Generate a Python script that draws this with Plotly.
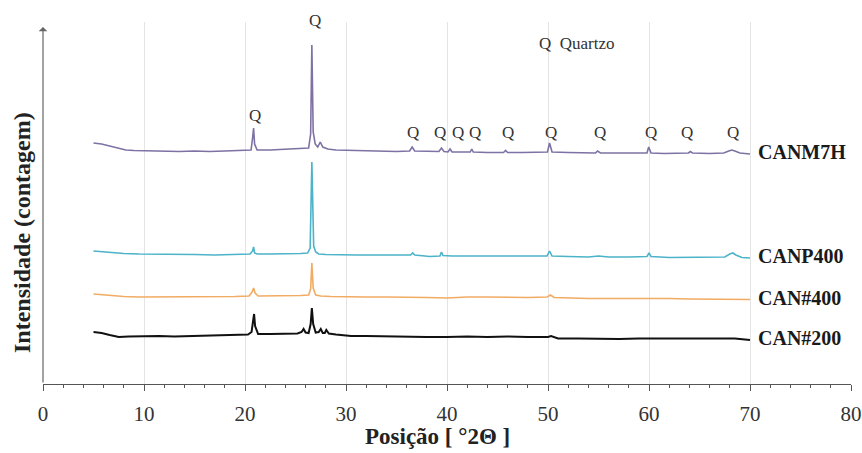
import plotly.graph_objects as go

# ---------------- data (intensity in arbitrary counts, offset stacked) ----------------
series_names = ["CANM7H", "CANP400", "CAN#400", "CAN#200"]
series_colors = ["#7d72a3", "#4cb3c9", "#f2ab63", "#111111"]
series_widths = [1.6, 1.6, 1.6, 2.0]

m7h_x = [5.0, 5.8, 6.6, 7.4, 8.2, 9.0,
         10.5, 12.0, 13.5, 15.0, 16.5, 18.0, 19.5,
         20.6, 20.75, 20.85, 20.95, 21.2,
         22.5, 24.0, 25.5, 26.3, 26.5, 26.62, 26.75, 26.95, 27.2, 27.45, 27.7, 28.2, 29.0,
         30.5, 32.0, 33.5, 35.0, 36.3, 36.55, 36.8,
         38.0, 39.2, 39.45, 39.7, 40.1, 40.3, 40.5,
         41.5, 42.3, 42.45, 42.6,
         44.0, 45.6, 45.8, 46.0,
         47.5, 49.0, 49.95, 50.15, 50.4,
         52.0, 53.5, 54.7, 54.9, 55.2,
         57.0, 58.5, 59.8, 59.97, 60.2,
         61.5, 63.0, 63.9, 64.1, 64.3,
         66.0, 67.4, 67.9, 68.2, 68.5, 69.0, 70.0]
m7h_y = [241, 240, 238, 236, 234, 233.5,
         233, 233, 232.5, 233, 232.5, 233, 233.5,
         234, 246, 256, 240, 234,
         234, 234.5, 235, 236, 250, 339, 252, 240, 237, 242, 237, 235, 234,
         233.5, 233, 233, 232.5, 233, 237, 233,
         232.5, 232.5, 236, 232.5, 232, 235, 232,
         232, 232, 235, 232,
         231.5, 231.5, 233.5, 231.5,
         231.5, 231.5, 232, 241, 232,
         231.5, 231, 231, 233, 231,
         231, 231, 231, 237, 231,
         230.5, 230.5, 231, 232.5, 231,
         230.5, 231, 233, 234, 233, 231, 230]

p400_x = [5.0, 6.0, 7.0, 8.0, 9.5, 11.0, 13.0, 15.0, 17.0, 19.0,
          20.5, 20.75, 20.85, 20.95, 21.2,
          22.5, 24.0, 25.5, 26.2, 26.45, 26.62, 26.8, 27.0, 27.3, 28.0,
          29.5, 31.0, 33.0, 35.0,
          36.4, 36.6, 36.8,
          38.3, 39.3, 39.45, 39.6,
          40.5, 42.0, 44.0, 46.0, 48.0,
          49.9, 50.15, 50.4,
          52.0, 54.0, 55.0, 56.0, 58.0,
          59.8, 60.0, 60.2,
          62.0, 64.0, 66.0,
          67.5, 68.0, 68.3, 68.6, 69.2, 70.0]
p400_y = [133, 132, 131, 130.5, 130, 130, 129.5, 129.5, 129, 129.5,
          130, 133, 137, 131, 130,
          130, 130, 130.5, 131, 136, 222, 138, 132, 130, 129.5,
          129, 129, 129, 129,
          129, 131, 129,
          127.5, 128, 132, 128.5,
          128, 128, 128, 127.5, 127.5,
          128, 133, 128,
          127.5, 127, 128, 127, 127,
          127.5, 131, 127.5,
          126.5, 126.5, 126.5,
          127, 130, 131, 129, 126.5, 126]

c400_x = [5.0, 6.0, 7.0, 8.0, 9.5, 11.0, 13.0, 15.0, 17.0, 19.0,
          20.4, 20.7, 20.85, 21.0, 21.3,
          22.5, 24.0, 25.5, 26.3, 26.5, 26.62, 26.75, 27.0, 27.5, 28.5,
          30.0, 32.0, 34.0, 36.0, 38.0, 40.0, 42.0, 44.0, 46.0, 48.0,
          49.9, 50.25, 50.6,
          52.0, 54.0, 56.0, 58.0, 60.0, 62.0, 64.0, 66.0, 68.0, 70.0]
c400_y = [90, 89, 88, 87.5, 87, 87, 87, 87, 87, 87.5,
          88, 92, 96, 91, 88,
          88, 88, 88.5, 89, 95, 121, 96, 89, 88, 87.5,
          87, 87, 87, 87, 86.5, 86, 87, 87, 86.5, 86.5,
          87, 89, 86.5,
          86, 85.5, 85.5, 85.5, 86, 85.5, 85, 85, 85, 84.5]

c200_x = [5.0, 5.8, 6.6, 7.5, 8.5, 10.0, 11.5, 13.0, 14.5, 16.0, 17.5, 19.0,
          20.3, 20.65, 20.8, 20.9, 21.0, 21.3,
          22.5, 24.0, 25.2, 25.6, 25.8, 26.0, 26.3, 26.5, 26.62, 26.75, 27.0,
          27.3, 27.5, 27.7, 27.9, 28.05, 28.3, 29.0,
          30.5, 32.0, 34.0, 36.0, 38.0, 40.0, 42.0, 44.0, 46.0, 48.0,
          50.0, 50.3, 51.0,
          53.0, 55.0, 57.0, 59.0, 61.0, 63.0, 65.0, 67.0, 68.5, 70.0]
c200_y = [52, 51, 49, 47, 47.5, 48, 48, 47.5, 48, 48, 48.5, 49,
          49.5, 52, 62, 70, 58, 50,
          50, 50, 50.5, 52, 55, 51.5, 51, 60, 76, 60, 51.5,
          52, 55, 51, 51, 54, 50.5, 49.5,
          48, 48, 47.5, 47.5, 47, 47, 47.5, 47, 47.5, 47,
          47, 48, 45.5,
          45.5, 45, 45, 45.5, 45.5, 45, 45.5, 45, 45.5, 44]

# quartz peak markers
q_x = [21.0, 26.9, 36.6, 39.3, 41.1, 42.8, 46.0, 50.3, 55.1, 60.2, 63.8, 68.3]
q_y = [269, 360, 252, 252, 252, 252, 252, 252, 252, 252, 252, 252]
legend_note = "Q  Quartzo"
legend_note_pos = (52.9, 341)

x_ticks = [0, 10, 20, 30, 40, 50, 60, 70, 80]
x_range = [0, 80]
y_range = [0, 362]
y_arrow_top = 357
label_x = 70.6
x_title = "<b>Posição [ °2Θ ]</b>"
x_title_pos = 39.1
y_title = "<b>Intensidade (contagem)</b>"

series_x = [m7h_x, p400_x, c400_x, c200_x]
series_y = [m7h_y, p400_y, c400_y, c200_y]

# ---------------- figure ----------------
SERIF = "Times New Roman, Liberation Serif, serif"
fig = go.Figure()

for name, col, w, xs, ys in zip(series_names, series_colors, series_widths, series_x, series_y):
    fig.add_trace(go.Scatter(x=xs, y=ys, mode="lines", name=name,
                             line=dict(color=col, width=w), showlegend=False))

annotations = []
for name, ys in zip(series_names, series_y):
    annotations.append(dict(x=label_x, y=ys[-1], xref="x", yref="y", text=name,
                            showarrow=False, xanchor="left", yanchor="middle", yshift=2,
                            font=dict(family=SERIF, size=20, color="#1a1a1a", weight="bold")))
for qx, qy in zip(q_x, q_y):
    annotations.append(dict(x=qx, y=qy, xref="x", yref="y", text="Q", showarrow=False,
                            yshift=(4 if qy > 355 else 0),
                            font=dict(family=SERIF, size=17, color="#333333")))
annotations.append(dict(x=legend_note_pos[0], y=legend_note_pos[1], xref="x", yref="y",
                        text=legend_note, showarrow=False,
                        font=dict(family=SERIF, size=17, color="#333333")))
# y-axis arrow
annotations.append(dict(x=0, y=y_arrow_top, ax=0, ay=0, xref="x", yref="y",
                        axref="x", ayref="y", text="", showarrow=True,
                        arrowhead=1, arrowsize=1.2, arrowwidth=1.2, arrowcolor="#666666"))
# axis titles
annotations.append(dict(x=-0.026, y=152, xref="paper", yref="y",
                        text=y_title, showarrow=False,
                        textangle=-90, xanchor="center", yanchor="middle",
                        font=dict(family=SERIF, size=24, color="#222222")))
annotations.append(dict(x=x_title_pos, y=-0.145, xref="x", yref="paper",
                        text=x_title, showarrow=False, xanchor="center", yanchor="middle",
                        font=dict(family=SERIF, size=23, color="#222222")))

fig.update_layout(
    width=862, height=453,
    margin=dict(l=43, r=11, t=22, b=69, autoexpand=False),
    paper_bgcolor="white", plot_bgcolor="white",
    showlegend=False,
    annotations=annotations,
    xaxis=dict(range=x_range, tickvals=x_ticks, showgrid=True, gridcolor="#e4e4e4",
               gridwidth=1, zeroline=False, showline=True, linecolor="#555555",
               linewidth=1.2, ticks="outside", ticklen=6, tickcolor="#555555",
               ticklabelstandoff=5, automargin=False,
               minor=dict(dtick=2, ticks="outside", ticklen=3, tickcolor="#555555",
                          showgrid=False),
               tickfont=dict(family=SERIF, size=21, color="#333333")),
    xaxis2=dict(range=x_range, tickvals=x_ticks, overlaying="x", anchor="y",
                side="bottom", showgrid=False, zeroline=False, showline=False,
                ticks="inside", ticklen=6, tickcolor="#555555", showticklabels=False,
                automargin=False,
                minor=dict(dtick=2, ticks="inside", ticklen=3, tickcolor="#555555",
                           showgrid=False)),
    yaxis=dict(range=y_range, showgrid=False, zeroline=False, showline=False,
               showticklabels=False, ticks="", automargin=False),
)

fig.write_html("out.html", config={"displayModeBar": False},
               post_script="document.body.style.margin='0';document.body.style.overflow='hidden';")
